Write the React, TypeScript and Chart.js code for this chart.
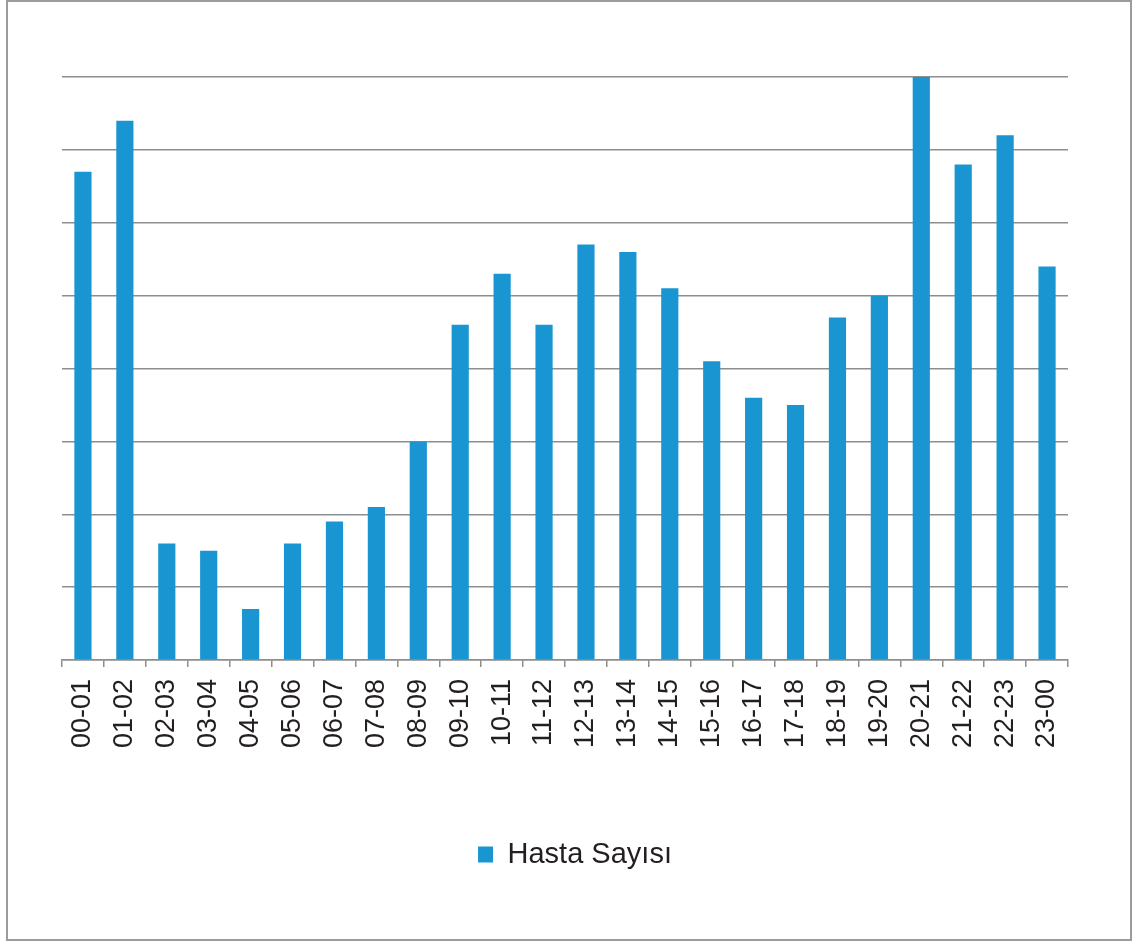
import React, { useEffect, useRef } from "react";
import { Chart, registerables } from "chart.js";

Chart.register(...registerables);

// Hourly patient counts
const hours: string[] = [
  "00-01", "01-02", "02-03", "03-04", "04-05", "05-06", "06-07", "07-08",
  "08-09", "09-10", "10-11", "11-12", "12-13", "13-14", "14-15", "15-16",
  "16-17", "17-18", "18-19", "19-20", "20-21", "21-22", "22-23", "23-00",
];
const patientCounts: number[] = [
  67, 74, 16, 15, 7, 16, 19, 21, 30, 46, 53, 46,
  57, 56, 51, 41, 36, 35, 47, 50, 80, 68, 72, 54,
];
const seriesLabel = "Hasta Sayısı";
const yMax = 80;
const yStep = 10;

const BAR_COLOR = "#1996d2";
const GRID_COLOR = "#8e8e8e";
const TEXT_COLOR = "#231f20";
const FONT = "'Liberation Sans', Arial, sans-serif";

export default function App() {
  const canvasRef = useRef<HTMLCanvasElement | null>(null);

  useEffect(() => {
    const canvas = canvasRef.current;
    if (!canvas) return;
    const chart = new Chart(canvas, {
      type: "bar",
      data: {
        labels: hours,
        datasets: [
          {
            label: seriesLabel,
            data: patientCounts,
            backgroundColor: BAR_COLOR,
            borderWidth: 0,
            barPercentage: 0.41,
            categoryPercentage: 1,
          },
        ],
      },
      options: {
        animation: false,
        responsive: false,
        maintainAspectRatio: false,
        layout: { padding: { left: 62, right: 47, top: 77, bottom: 66 } },
        scales: {
          x: {
            offset: true,
            grid: {
              display: true,
              offset: true,
              drawOnChartArea: false,
              drawTicks: true,
              tickLength: 7,
              color: GRID_COLOR,
              lineWidth: 1.5,
            },
            border: { display: true, color: GRID_COLOR, width: 1.5 },
            ticks: {
              minRotation: 90,
              maxRotation: 90,
              autoSkip: false,
              padding: 12,
              color: TEXT_COLOR,
              font: { family: FONT, size: 27 },
            },
            afterFit: (scale: any) => {
              scale.height = 170;
            },
          },
          y: {
            min: 0,
            max: yMax,
            ticks: { display: false, stepSize: yStep },
            grid: {
              color: GRID_COLOR,
              lineWidth: 1.5,
              drawTicks: false,
            },
            border: { display: false },
            afterFit: (scale: any) => {
              scale.width = 0;
            },
          },
          y2: {
            type: "linear",
            position: "right",
            display: true,
            ticks: { display: false },
            grid: { display: false },
            border: { display: false },
            afterFit: (scale: any) => {
              scale.width = 20;
            },
          },
        },
        plugins: {
          legend: {
            display: true,
            position: "bottom",
            labels: {
              boxWidth: 15,
              boxHeight: 16,
              padding: 10,
              color: TEXT_COLOR,
              font: { family: FONT, size: 29 },
            },
          },
          tooltip: { enabled: false },
        },
      },
    } as any);
    return () => chart.destroy();
  }, []);

  return (
    <div
      style={{
        position: "absolute",
        left: 0,
        top: 0,
        width: 1135,
        height: 945,
        background: "#ffffff",
      }}
    >
      <div
        style={{
          position: "absolute",
          left: 6,
          top: 0,
          width: 1122,
          height: 937,
          border: "2px solid #9c9c9c",
        }}
      />
      <canvas
        ref={canvasRef}
        width={1135}
        height={945}
        style={{ position: "absolute", left: 0, top: 0, width: 1135, height: 945 }}
      />
    </div>
  );
}
